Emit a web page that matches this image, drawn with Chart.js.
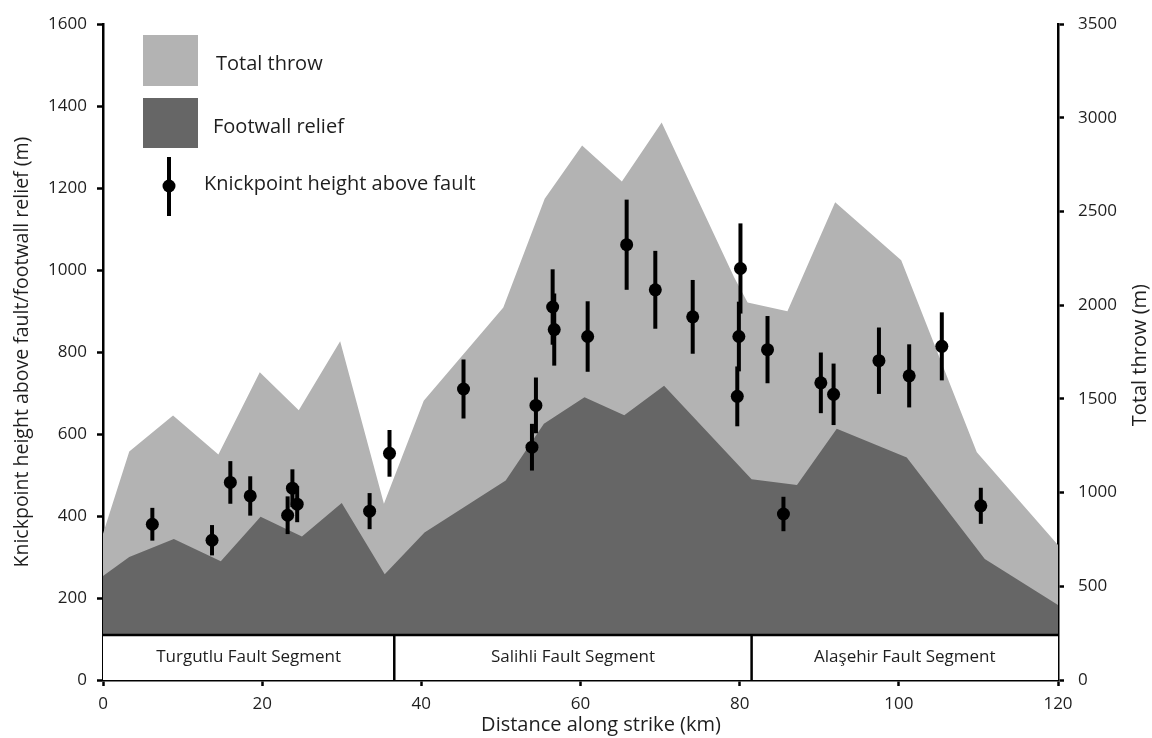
<!DOCTYPE html>
<html>
<head>
<meta charset="utf-8">
<script src="https://cdn.jsdelivr.net/npm/chart.js@4.4.1/dist/chart.umd.min.js"></script>
<style>
  html, body { margin: 0; padding: 0; background: #ffffff; }
  #wrap { width: 1152px; height: 738px; }
</style>
</head>
<body>
<div id="wrap"><canvas id="c" width="1152" height="738"></canvas></div>
<script>
// ---- Data ----
const throwDistance = [0, 3.3, 8.8, 14.5, 19.7, 24.6, 29.8, 35.3, 40.3, 50.3, 55.5, 60.2, 65.2, 70.2, 79.3, 81.0, 86.0, 92.0, 100.3, 109.8, 120];
const totalThrow    = [780, 1220, 1412, 1203, 1642, 1440, 1808, 940, 1490, 1988, 2568, 2853, 2660, 2975, 2150, 2015, 1968, 2550, 2240, 1215, 720];

const reliefDistance = [0, 3.3, 8.9, 14.8, 19.8, 25.0, 30.0, 35.4, 40.4, 50.6, 55.4, 60.5, 65.5, 70.5, 81.5, 87.2, 92.2, 101.0, 110.8, 120];
const footwallRelief = [254, 300, 344, 290, 398, 350, 432, 258, 360, 487, 625, 690, 646, 718, 490, 476, 613, 543, 295, 183];

const kpDistance = [6.2, 13.7, 16.0, 18.5, 23.2, 23.8, 24.4, 33.5, 36.0, 45.3, 53.9, 54.4, 56.5, 56.7, 60.9, 65.8, 69.4, 74.1, 80.1, 79.9, 79.7, 83.5, 85.5, 90.2, 91.8, 97.5, 101.3, 105.4, 110.3];
const kpHeight   = [380, 341, 482, 449, 402, 468, 429, 412, 553, 710, 568, 670, 910, 855, 838, 1062, 952, 886, 1004, 838, 692, 806, 405, 725, 697, 779, 742, 814, 425];
const kpError    = [40, 37, 52, 48, 46, 46, 44, 44, 57, 72, 57, 68, 92, 88, 86, 110, 95, 90, 110, 85, 73, 82, 42, 74, 75, 81, 77, 83, 44];

const segmentBounds = [0, 36.6, 81.5, 120];
const segmentNames  = ["Turgutlu Fault Segment", "Salihli Fault Segment", "Alaşehir Fault Segment"];
const segmentTop    = 110;

const xTicks = [0, 20, 40, 60, 80, 100, 120];
const leftTicks = [0, 200, 400, 600, 800, 1000, 1200, 1400, 1600];
const rightTicks = [0, 500, 1000, 1500, 2000, 2500, 3000, 3500];

const legendLabels = ["Total throw", "Footwall relief", "Knickpoint height above fault"];
const xTitle = "Distance along strike (km)";
const leftTitle = "Knickpoint height above fault/footwall relief (m)";
const rightTitle = "Total throw (m)";

// ---- Styles ----
const LIGHT = '#b3b3b3';
const DARK = '#666666';
const INK = '#1e1e1e';
const FONT = "'Open Sans', sans-serif";

Chart.defaults.font.family = FONT;
Chart.defaults.color = INK;

const pts = (xs, ys) => xs.map((x, i) => ({ x: x, y: ys[i] }));
const plain = v => String(v);

const errorBars = {
  id: 'errorBars',
  afterDatasetsDraw(chart) {
    const ctx = chart.ctx, xs = chart.scales.x, ys = chart.scales.y;
    ctx.save();
    ctx.strokeStyle = '#000';
    ctx.lineWidth = 4;
    ctx.lineCap = 'butt';
    kpDistance.forEach((d, i) => {
      const px = xs.getPixelForValue(d);
      ctx.beginPath();
      ctx.moveTo(px, ys.getPixelForValue(kpHeight[i] - kpError[i]));
      ctx.lineTo(px, ys.getPixelForValue(kpHeight[i] + kpError[i]));
      ctx.stroke();
    });
    ctx.restore();
  }
};

const segmentBox = {
  id: 'segmentBox',
  afterDatasetsDraw(chart) {
    const ctx = chart.ctx, xs = chart.scales.x, ys = chart.scales.y;
    const top = ys.getPixelForValue(segmentTop), bot = ys.getPixelForValue(0);
    ctx.save();
    ctx.fillStyle = '#fff';
    ctx.fillRect(xs.getPixelForValue(segmentBounds[0]), top, xs.getPixelForValue(segmentBounds[3]) - xs.getPixelForValue(segmentBounds[0]), bot - top);
    ctx.strokeStyle = '#000';
    ctx.lineWidth = 2.5;
    ctx.beginPath();
    ctx.moveTo(xs.getPixelForValue(segmentBounds[0]), top);
    ctx.lineTo(xs.getPixelForValue(segmentBounds[3]), top);
    for (let i = 1; i < segmentBounds.length - 1; i++) {
      const px = xs.getPixelForValue(segmentBounds[i]);
      ctx.moveTo(px, top); ctx.lineTo(px, bot);
    }
    ctx.stroke();
    ctx.fillStyle = INK;
    ctx.font = "17px " + FONT;
    ctx.textAlign = 'center';
    ctx.textBaseline = 'middle';
    segmentNames.forEach((n, i) => {
      const cx = (xs.getPixelForValue(segmentBounds[i]) + xs.getPixelForValue(segmentBounds[i + 1])) / 2;
      ctx.fillText(n, cx, (top + bot) / 2);
    });
    ctx.restore();
  }
};

const extras = {
  id: 'extras',
  afterDraw(chart) {
    const ctx = chart.ctx, a = chart.chartArea;
    ctx.save();
    // legend
    ctx.fillStyle = LIGHT; ctx.fillRect(143, 35, 55, 51);
    ctx.fillStyle = DARK;  ctx.fillRect(143, 98, 55, 50);
    ctx.strokeStyle = '#000'; ctx.lineWidth = 4;
    ctx.beginPath(); ctx.moveTo(169, 157); ctx.lineTo(169, 216); ctx.stroke();
    ctx.fillStyle = '#000';
    ctx.beginPath(); ctx.arc(169, 186, 6.5, 0, Math.PI * 2); ctx.fill();
    ctx.fillStyle = INK;
    ctx.font = "20px " + FONT;
    ctx.textAlign = 'left'; ctx.textBaseline = 'middle';
    ctx.fillText(legendLabels[0], 216, 64);
    ctx.fillText(legendLabels[1], 213, 127);
    ctx.fillText(legendLabels[2], 204, 184);
    // x title
    ctx.textAlign = 'center';
    ctx.fillText(xTitle, 601, 725);
    // right title
    ctx.translate(1140, (a.top + a.bottom) / 2 + 3);
    ctx.rotate(-Math.PI / 2);
    ctx.fillText(rightTitle, 0, 0);
    ctx.restore();
  }
};

const gridOpts = { drawOnChartArea: false, drawTicks: true, tickLength: 6, tickWidth: 2.5, tickColor: '#000' };
const borderOpts = { display: true, color: '#000', width: 2.5 };

new Chart(document.getElementById('c'), {
  data: {
    datasets: [
      {
        type: 'scatter', label: legendLabels[2], data: pts(kpDistance, kpHeight), yAxisID: 'y', xAxisID: 'x',
        pointRadius: 6.5, pointHoverRadius: 6.5, pointBackgroundColor: '#000', pointBorderWidth: 0, order: 1
      },
      {
        type: 'line', label: legendLabels[1], data: pts(reliefDistance, footwallRelief), yAxisID: 'y', xAxisID: 'x',
        borderWidth: 0, borderColor: DARK, backgroundColor: DARK, fill: 'origin', pointRadius: 0, tension: 0, order: 2
      },
      {
        type: 'line', label: legendLabels[0], data: pts(throwDistance, totalThrow), yAxisID: 'y2', xAxisID: 'x',
        borderWidth: 0, borderColor: LIGHT, backgroundColor: LIGHT, fill: 'origin', pointRadius: 0, tension: 0, order: 3
      }
    ]
  },
  options: {
    responsive: false,
    animation: false,
    devicePixelRatio: 1,
    layout: { padding: { top: 24, left: 0, right: 0, bottom: 0 } },
    plugins: { legend: { display: false }, tooltip: { enabled: false } },
    events: [],
    scales: {
      x: {
        type: 'linear', position: 'bottom', min: 0, max: 120,
        afterBuildTicks: s => { s.ticks = xTicks.map(v => ({ value: v })); },
        afterFit: s => { s.height = 58; },
        ticks: { font: { size: 17 }, color: INK, padding: 8, maxRotation: 0, callback: plain },
        grid: gridOpts, border: borderOpts
      },
      y: {
        type: 'linear', position: 'left', min: 0, max: 1600,
        afterBuildTicks: s => { s.ticks = leftTicks.map(v => ({ value: v })); },
        afterFit: s => { s.width = 103; },
        ticks: { font: { size: 17 }, color: INK, padding: 10, callback: plain },
        grid: gridOpts, border: borderOpts,
        title: { display: true, text: leftTitle, font: { size: 19.5 }, color: INK, padding: { top: 11, bottom: 0 } }
      },
      y2: {
        type: 'linear', position: 'right', min: 0, max: 3500,
        afterBuildTicks: s => { s.ticks = rightTicks.map(v => ({ value: v })); },
        afterFit: s => { s.width = 94; },
        ticks: { font: { size: 17 }, color: INK, padding: 14, callback: plain },
        grid: gridOpts, border: borderOpts
      }
    }
  },
  plugins: [segmentBox, errorBars, extras]
});
</script>
</body>
</html>
